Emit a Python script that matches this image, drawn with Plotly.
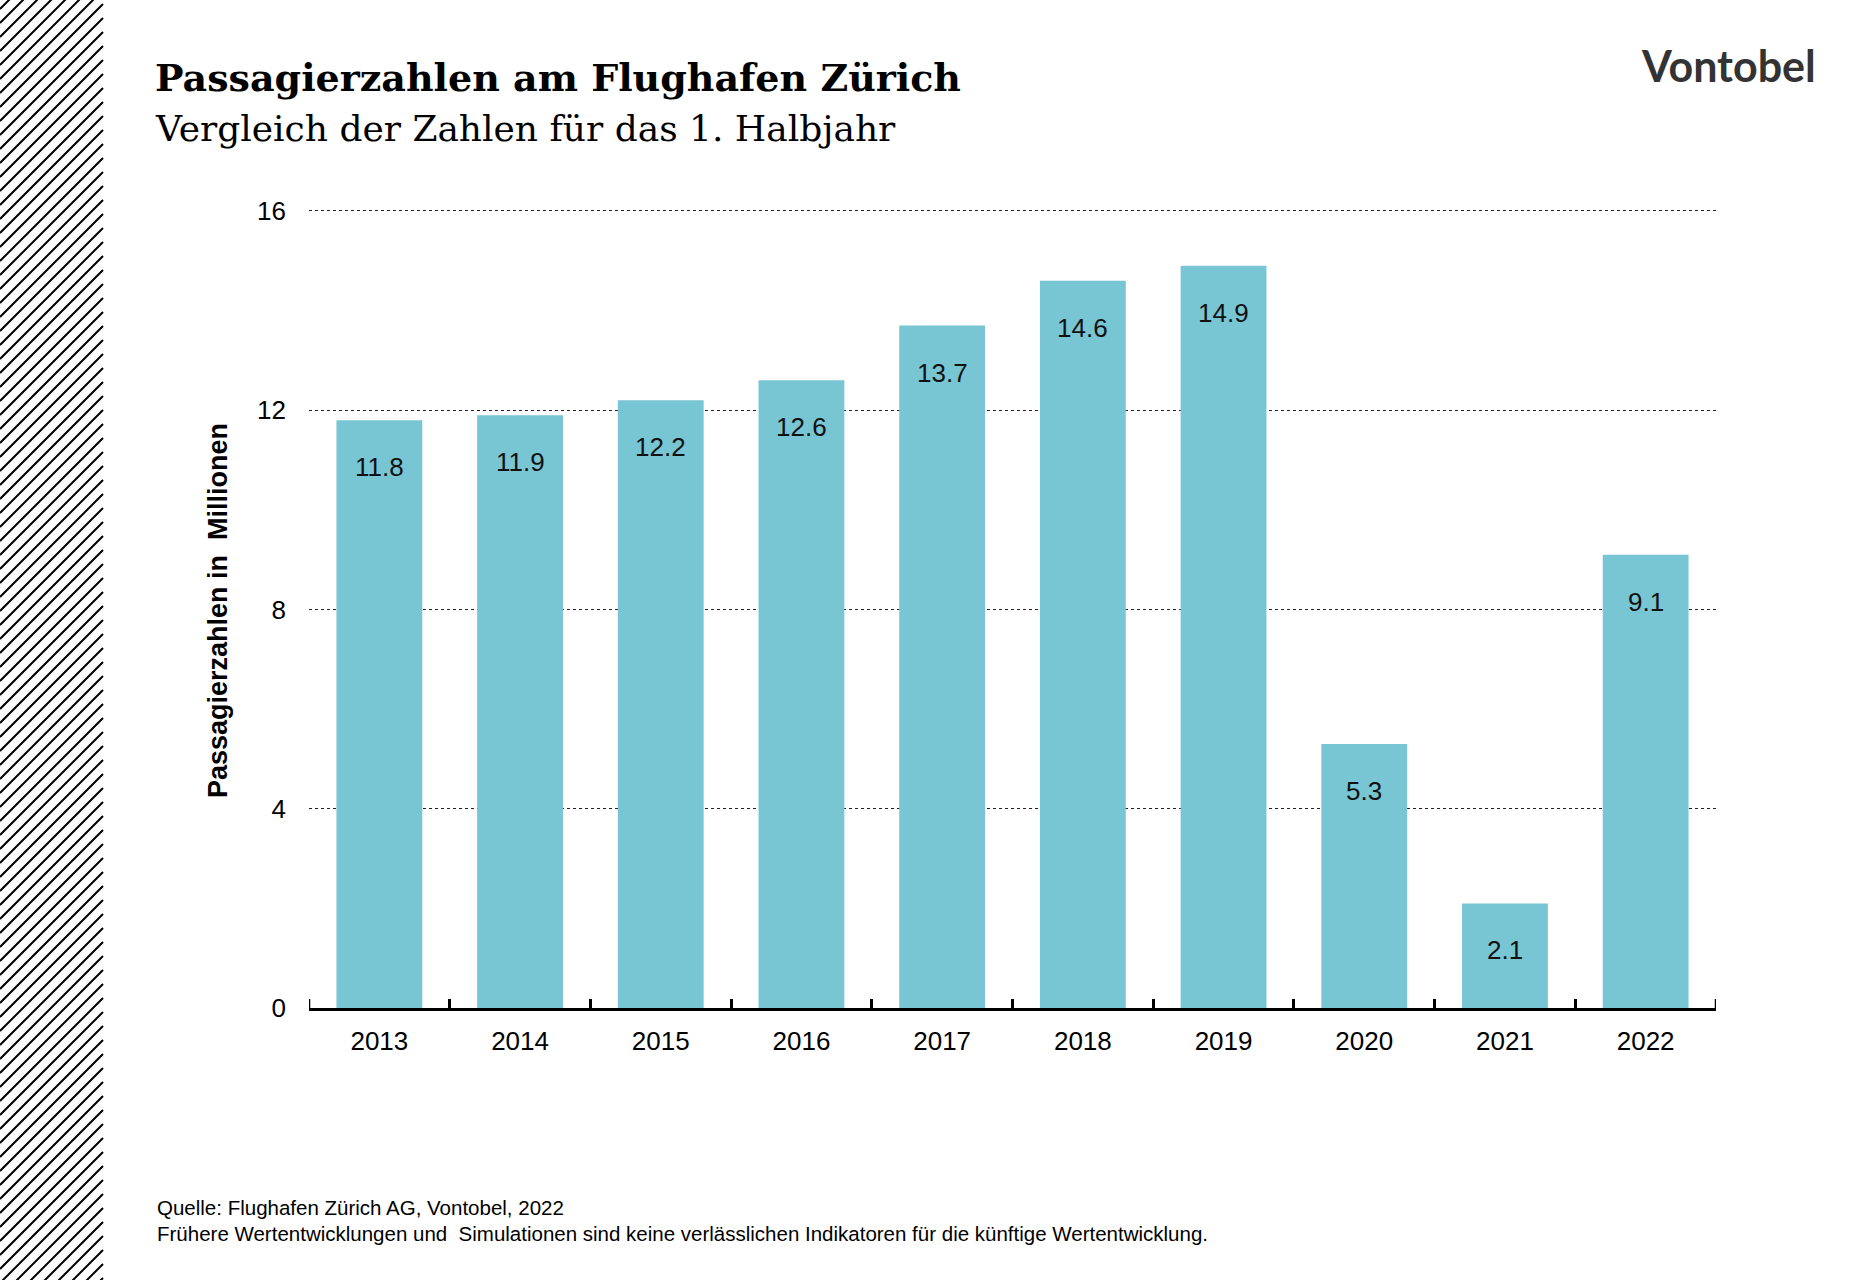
import plotly.graph_objects as go

years = ["2013", "2014", "2015", "2016", "2017", "2018", "2019", "2020", "2021", "2022"]
passengers = [11.8, 11.9, 12.2, 12.6, 13.7, 14.6, 14.9, 5.3, 2.1, 9.1]
y_ticks = [0, 4, 8, 12, 16]

W, H = 1871, 1280
ML, MR, MT, MB = 309, 155, 209, 272
PW, PH = W - ML - MR, H - MT - MB
Y_MAX = 16.04

def px_x(px):
    return (px - ML) / PW

def px_y(py):
    return (H - MB - py) / PH

fig = go.Figure()
fig.add_trace(go.Bar(
    x=years, y=passengers,
    marker=dict(color="#78C5D4", line=dict(width=0)),
    hoverinfo="x+y",
))

annotations = []
for i, v in enumerate(passengers):
    annotations.append(dict(
        x=i, y=v, xref="x", yref="y", text=f"{v:.1f}", showarrow=False,
        yshift=-47, font=dict(family="Liberation Sans, Arial", size=26, color="#111111"),
    ))

# titles
annotations.append(dict(
    x=px_x(153), y=px_y(92), xref="paper", yref="paper", xanchor="left", yanchor="bottom",
    text="<b>Passagierzahlen am Flughafen Zürich</b>", showarrow=False,
    font=dict(family="DejaVu Serif, serif", size=38, color="#000000"),
    yshift=-10,
))
annotations.append(dict(
    x=px_x(153), y=px_y(141), xref="paper", yref="paper", xanchor="left", yanchor="bottom",
    text="Vergleich der Zahlen für das 1. Halbjahr", showarrow=False,
    font=dict(family="DejaVu Serif, serif", size=36, color="#000000"),
    yshift=-10,
))
# logo
annotations.append(dict(
    x=px_x(1818), y=px_y(65), xref="paper", yref="paper", xanchor="right", yanchor="middle",
    text="<b>Vontobel</b>", showarrow=False,
    font=dict(family="Lato, Inter, sans-serif", size=43, color="#333333"),
))
# y axis title
annotations.append(dict(
    x=px_x(218), y=px_y(611), xref="paper", yref="paper", xanchor="center", yanchor="middle",
    text="<b>Passagierzahlen in  Millionen</b>", showarrow=False, textangle=-90,
    font=dict(family="Liberation Sans, Arial", size=27, color="#000000"),
))
# footer
annotations.append(dict(
    x=px_x(155), y=px_y(1207), xref="paper", yref="paper", xanchor="left", yanchor="middle",
    text="Quelle: Flughafen Zürich AG, Vontobel, 2022", showarrow=False,
    font=dict(family="Liberation Sans, Arial", size=20.5, color="#000000"),
))
annotations.append(dict(
    x=px_x(155), y=px_y(1233), xref="paper", yref="paper", xanchor="left", yanchor="middle",
    text="Frühere Wertentwicklungen und  Simulationen sind keine verlässlichen Indikatoren für die künftige Wertentwicklung.",
    showarrow=False,
    font=dict(family="Liberation Sans, Arial", size=20.5, color="#000000"),
))

# hatch strip on the left
segs = []
stripe_w = 103
c = -stripe_w
while c < H + stripe_w + 14:
    x0, y0 = 0, c
    x1, y1 = stripe_w, c - stripe_w
    segs.append(f"M{px_x(x0):.5f},{px_y(y0):.5f} L{px_x(x1):.5f},{px_y(y1):.5f}")
    c += 14
shapes = [dict(type="path", xref="paper", yref="paper", path=" ".join(segs),
               line=dict(color="#000000", width=2))]

# end ticks at both ends of the category axis
tick_h = 9 / PH
for xe in (-0.5, len(years) - 0.5):
    shapes.append(dict(type="line", xref="x", yref="paper", x0=xe, x1=xe, y0=0, y1=tick_h,
                       line=dict(color="#000000", width=2.5)))

fig.update_layout(
    width=W, height=H,
    margin=dict(l=ML, r=MR, t=MT, b=MB, pad=0),
    paper_bgcolor="white", plot_bgcolor="white",
    bargap=0.39,
    showlegend=False,
    annotations=annotations,
    shapes=shapes,
    font=dict(family="Liberation Sans, Arial", color="#000000"),
    xaxis=dict(
        type="category", range=[-0.5, len(years) - 0.5], autorange=False,
        showgrid=False, showline=True, linecolor="#000000", linewidth=2.5,
        ticks="inside", tickson="boundaries", ticklen=9, tickwidth=2.5, tickcolor="#000000",
        tickfont=dict(family="Liberation Sans, Arial", size=26, color="#000000"),
        ticklabelstandoff=8, zeroline=False, tickangle=0,
    ),
    yaxis=dict(
        range=[0, Y_MAX], autorange=False, tickvals=y_ticks, ticktext=[str(t) for t in y_ticks],
        showgrid=True, gridcolor="#222222", gridwidth=1.4, griddash="dot",
        showline=False, zeroline=False, ticks="",
        tickfont=dict(family="Liberation Sans, Arial", size=26, color="#000000"),
        ticklabelstandoff=22,
    ),
)

fig.write_html("out.html")
